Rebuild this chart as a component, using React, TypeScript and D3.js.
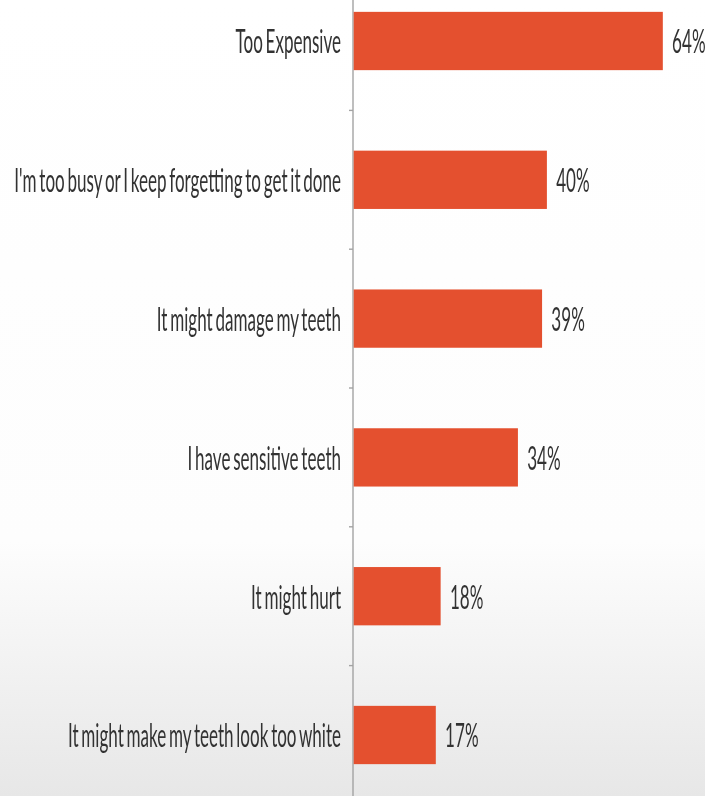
import React from "react";
import * as d3 from "d3";

const categories = [
  "Too Expensive",
  "I'm too busy or I keep forgetting to get it done",
  "It might damage my teeth",
  "I have sensitive teeth",
  "It might hurt",
  "It might make my teeth look too white",
];
const values = [64, 40, 39, 34, 18, 17];

const W = 705;
const H = 796;
const AXIS_X = 353;
const BAR_COLOR = "#e4502f";
const TEXT_COLOR = "#333333";
const FONT = "Lato, 'Open Sans', sans-serif";
const FONT_SIZE = 32;
const SX = 0.533;

export default function App() {
  const x = d3.scaleLinear().domain([0, 100]).range([AXIS_X, AXIS_X + 483]);
  const y = d3.scalePoint<string>().domain(categories).range([41, 735]);
  const step = y.step();
  const barH = step * 0.42;
  const ticks = categories.slice(1).map((c) => (y(c) as number) - step / 2);

  return (
    <svg
      width={W}
      height={H}
      style={{ position: "absolute", left: 0, top: 0, display: "block" }}
    >
      <defs>
        <linearGradient id="bg" x1="0" y1="0" x2="0" y2="1">
          <stop offset="0%" stopColor="#ffffff" />
          <stop offset="68%" stopColor="#fdfdfd" />
          <stop offset="85%" stopColor="#f1f1f1" />
          <stop offset="100%" stopColor="#e7e7e7" />
        </linearGradient>
        <filter id="soft" x="-5%" y="-20%" width="110%" height="140%">
          <feGaussianBlur stdDeviation="0.5" />
        </filter>
      </defs>
      <rect x={0} y={0} width={W} height={H} fill="url(#bg)" />
      <line
        x1={AXIS_X}
        x2={AXIS_X}
        y1={0}
        y2={H}
        stroke="#a3a3a3"
        strokeWidth={1.4}
      />
      {ticks.map((t, i) => (
        <line
          key={i}
          x1={AXIS_X - 4}
          x2={AXIS_X}
          y1={t}
          y2={t}
          stroke="#a3a3a3"
          strokeWidth={1.4}
        />
      ))}
      {categories.map((c, i) => {
        const cy = y(c) as number;
        return (
          <g key={c}>
            <rect
              x={x(0) + 0.7}
              y={cy - barH / 2}
              width={x(values[i]) - x(0)}
              height={barH}
              fill={BAR_COLOR}
            />
            <g filter="url(#soft)">
              <text
                transform={`translate(${AXIS_X - 12},${cy}) scale(${SX},1)`}
                textAnchor="end"
                dominantBaseline="central"
                fontFamily={FONT}
                fontSize={FONT_SIZE}
                wordSpacing={-3}
                fill={TEXT_COLOR}
              >
                {c}
              </text>
              <text
                transform={`translate(${x(values[i]) + 10},${cy}) scale(${SX},1)`}
                textAnchor="start"
                dominantBaseline="central"
                fontFamily={FONT}
                fontSize={FONT_SIZE}
                fill={TEXT_COLOR}
              >
                {values[i] + "%"}
              </text>
            </g>
          </g>
        );
      })}
    </svg>
  );
}
